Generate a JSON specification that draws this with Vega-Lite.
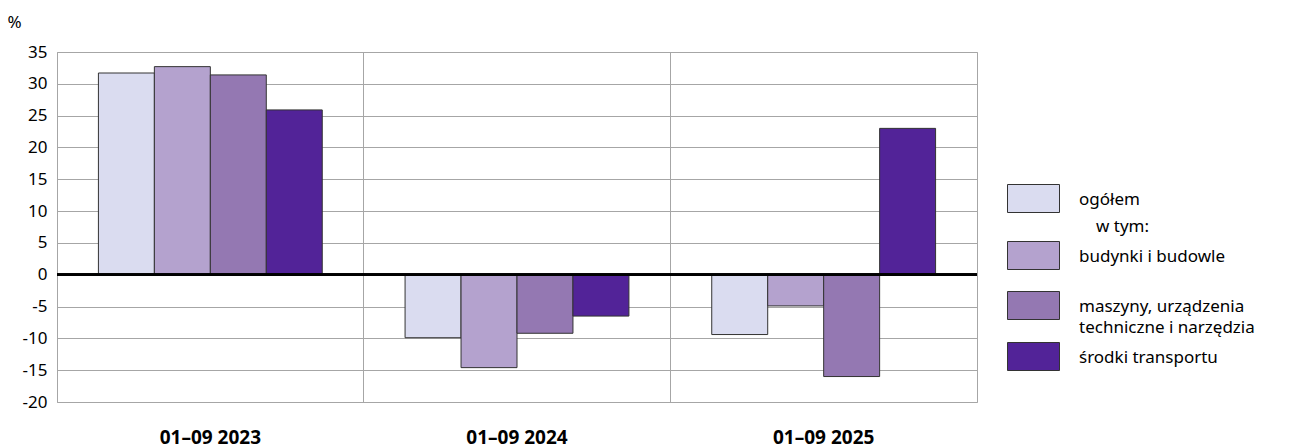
{
  "$schema": "https://vega.github.io/schema/vega-lite/v6.json",
  "autosize": {"type": "none"},
  "width": 920,
  "height": 350,
  "padding": {"left": 57, "top": 52, "right": 317, "bottom": 46},
  "background": "white",
  "config": {
    "font": "Noto Sans",
    "view": {"stroke": "#a6a6a6", "strokeWidth": 1}
  },
  "data": {
    "values": [
      {"okres": "01–09 2023", "kat": "ogółem", "v": 31.7},
      {"okres": "01–09 2023", "kat": "budynki i budowle", "v": 32.7},
      {"okres": "01–09 2023", "kat": "maszyny, urządzenia techniczne i narzędzia", "v": 31.4},
      {"okres": "01–09 2023", "kat": "środki transportu", "v": 25.9},
      {"okres": "01–09 2024", "kat": "ogółem", "v": -9.9},
      {"okres": "01–09 2024", "kat": "budynki i budowle", "v": -14.6},
      {"okres": "01–09 2024", "kat": "maszyny, urządzenia techniczne i narzędzia", "v": -9.2},
      {"okres": "01–09 2024", "kat": "środki transportu", "v": -6.5},
      {"okres": "01–09 2025", "kat": "ogółem", "v": -9.4},
      {"okres": "01–09 2025", "kat": "budynki i budowle", "v": -4.9},
      {"okres": "01–09 2025", "kat": "maszyny, urządzenia techniczne i narzędzia", "v": -16.0},
      {"okres": "01–09 2025", "kat": "środki transportu", "v": 23.0}
    ]
  },
  "layer": [
    {
      "mark": {"type": "bar", "stroke": "#333333", "strokeWidth": 1},
      "encoding": {
        "x": {
          "field": "okres", "type": "nominal",
          "scale": {"paddingInner": 0, "paddingOuter": 0},
          "axis": {
            "title": null, "labelAngle": 0, "labelFontWeight": "bold", "labelFontSize": 19,
            "labelColor": "#000000", "labelPadding": 26, "ticks": false, "domain": false,
            "grid": true, "bandPosition": 0, "gridColor": "#a6a6a6", "gridWidth": 1
          }
        },
        "xOffset": {
          "field": "kat", "type": "nominal",
          "sort": ["ogółem", "budynki i budowle", "maszyny, urządzenia techniczne i narzędzia", "środki transportu"],
          "scale": {"paddingInner": 0, "paddingOuter": 0.74}
        },
        "y": {
          "field": "v", "type": "quantitative",
          "scale": {"domain": [-20, 35], "nice": false},
          "axis": {
            "title": "%", "titleAngle": 0, "titleAlign": "center", "titleBaseline": "middle",
            "titleX": -43, "titleY": -30, "titleFontWeight": "normal", "titleFontSize": 17, "titleColor": "#000000",
            "values": [-20, -15, -10, -5, 0, 5, 10, 15, 20, 25, 30, 35],
            "labelExpr": "replace(datum.label, '\u2212', '-')",
            "labelFontSize": 17, "labelColor": "#000000", "labelPadding": 10,
            "ticks": false, "domain": false, "gridColor": "#a6a6a6", "gridWidth": 1
          }
        },
        "color": {
          "field": "kat", "type": "nominal",
          "sort": ["ogółem", "budynki i budowle", "maszyny, urządzenia techniczne i narzędzia", "środki transportu"],
          "scale": {
            "domain": ["ogółem", "budynki i budowle", "maszyny, urządzenia techniczne i narzędzia", "środki transportu"],
            "range": ["#dadcf0", "#b4a2ce", "#9478b2", "#522398"]
          },
          "legend": {
            "title": null, "orient": "none", "legendX": 956, "legendY": 126, "padding": 0,
            "symbolType": "M-1.3,-0.7H1.3V0.7H-1.3Z M0,1.33", "symbolSize": 1600,
            "symbolStrokeColor": "#333333", "symbolStrokeWidth": 1, "symbolOpacity": 1,
            "labelFontSize": 17, "labelColor": "#000000", "labelOffset": 25, "labelLimit": 300,
            "rowPadding": 0,
            "labelExpr": "datum.index === 0 ? ['ogółem', '\u200b\u2003w tym:'] : datum.index === 2 ? ['maszyny, urządzenia', 'techniczne i narzędzia'] : datum.label",
            "encode": {
              "labels": {
                "update": {
                  "lineHeight": {"signal": "datum.index === 0 ? 27 : 21"},
                  "dy": {"value": 1}
                }
              }
            }
          }
        }
      }
    },
    {
      "mark": {"type": "rule", "color": "#000000", "strokeWidth": 2},
      "encoding": {
        "y": {
          "datum": 0, "type": "quantitative",
          "scale": {"domain": [-20, 35], "nice": false},
          "axis": {
            "title": "%", "titleAngle": 0, "titleAlign": "center", "titleBaseline": "middle",
            "titleX": -43, "titleY": -30, "titleFontWeight": "normal", "titleFontSize": 17, "titleColor": "#000000",
            "values": [-20, -15, -10, -5, 0, 5, 10, 15, 20, 25, 30, 35],
            "labelExpr": "replace(datum.label, '\u2212', '-')",
            "labelFontSize": 17, "labelColor": "#000000", "labelPadding": 10,
            "ticks": false, "domain": false, "gridColor": "#a6a6a6", "gridWidth": 1
          }
        }
      }
    }
  ]
}
